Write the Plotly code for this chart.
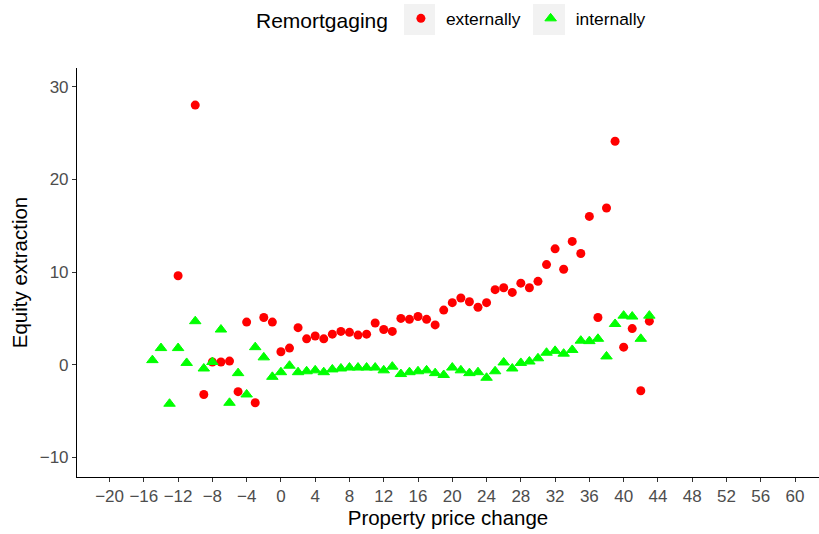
import plotly.graph_objects as go

# Price change (x) and equity extraction (y) by remortgaging type
ext_x = [-12, -10, -9, -8, -7, -6, -5, -4, -3, -2, -1, 0, 1, 2, 3, 4, 5, 6, 7, 8, 9, 10,
         11, 12, 13, 14, 15, 16, 17, 18, 19, 20, 21, 22, 23, 24, 25, 26, 27, 28, 29, 30,
         31, 32, 33, 34, 35, 36, 37, 38, 39, 40, 41, 42, 43]
ext_y = [9.6, 28.0, -3.2, 0.3, 0.3, 0.4, -2.9, 4.6, -4.1, 5.1, 4.6, 1.4, 1.8, 4.0, 2.8, 3.1,
         2.8, 3.3, 3.6, 3.5, 3.2, 3.3, 4.5, 3.8, 3.6, 5.0, 4.9, 5.2, 4.9, 4.3, 5.9, 6.7,
         7.2, 6.8, 6.2, 6.7, 8.1, 8.3, 7.8, 8.8, 8.3, 9.0, 10.8, 12.5, 10.3, 13.3, 12.0,
         16.0, 5.1, 16.9, 24.1, 1.9, 3.9, -2.8, 4.7]

int_x = [-15, -14, -13, -12, -11, -10, -9, -8, -7, -6, -5, -4, -3, -2, -1, 0, 1, 2, 3, 4,
         5, 6, 7, 8, 9, 10, 11, 12, 13, 14, 15, 16, 17, 18, 19, 20, 21, 22, 23, 24, 25,
         26, 27, 28, 29, 30, 31, 32, 33, 34, 35, 36, 37, 38, 39, 40, 41, 42, 43]
int_y = [0.5, 1.8, -4.2, 1.8, 0.2, 4.7, -0.4, 0.3, 3.8, -4.1, -0.9, -3.2, 1.9, 0.8, -1.3,
         -0.8, -0.1, -0.8, -0.7, -0.6, -0.8, -0.5, -0.4, -0.3, -0.3, -0.3, -0.3, -0.6,
         -0.2, -1.0, -0.8, -0.7, -0.6, -0.9, -1.1, -0.3, -0.6, -0.9, -0.8, -1.4, -0.7,
         0.25, -0.4, 0.2, 0.35, 0.7, 1.3, 1.5, 1.2, 1.6, 2.6, 2.55, 2.8, 0.9, 4.4, 5.3,
         5.2, 2.8, 5.3]

x_ticks = list(range(-20, 61, 4))
y_ticks = [-10, 0, 10, 20, 30]

FONT = "Liberation Sans, Arial, sans-serif"


def tick_text(vals):
    return [("\u2212" + str(-v)) if v < 0 else str(v) for v in vals]


fig = go.Figure()
fig.add_trace(go.Scatter(
    x=ext_x, y=ext_y, mode="markers", name="externally",
    marker=dict(symbol="circle", size=9, color="#FF0000", line=dict(width=0)),
))
fig.add_trace(go.Scatter(
    x=int_x, y=int_y, mode="markers", name="internally",
    marker=dict(symbol="triangle-up", size=10, color="#00FF00",
                line=dict(width=1, color="#00FF00")),
))

# light grey key backgrounds behind the legend symbols
key_boxes = [(404, 435), (533, 565)]
for x0, x1 in key_boxes:
    fig.add_shape(
        type="rect", xref="paper", yref="paper",
        x0=(x0 - 77) / 742, x1=(x1 - 77) / 742,
        y0=(477 - 35) / 409, y1=(477 - 4) / 409,
        fillcolor="#F2F2F2", line=dict(width=0), layer="above",
    )

fig.update_layout(
    width=819, height=534,
    margin=dict(l=77, r=0, t=68, b=57),
    paper_bgcolor="white", plot_bgcolor="white",
    font=dict(family=FONT, color="black"),
    legend=dict(
        orientation="h", x=(254 - 77) / 742, xanchor="left", y=0.999, yanchor="top",
        yref="container", itemwidth=40,
        title=dict(text="Remortgaging", font=dict(size=21, color="black"), side="left"),
        font=dict(size=17.4, color="black"),
        bgcolor="rgba(0,0,0,0)",
    ),
)

fig.update_xaxes(
    range=[-23.8, 62.8], tickmode="array", tickvals=x_ticks, ticktext=tick_text(x_ticks),
    showgrid=False, zeroline=False, showline=True, linecolor="black", linewidth=1.1,
    ticks="outside", ticklen=4, tickwidth=1.1, tickcolor="#333333",
    tickfont=dict(size=17, color="#4D4D4D"),
    title=dict(text="Property price change", font=dict(size=20.5, color="black"), standoff=4),
)
fig.update_yaxes(
    range=[-12.1, 32.0], tickmode="array", tickvals=y_ticks, ticktext=tick_text(y_ticks),
    showgrid=False, zeroline=False, showline=True, linecolor="black", linewidth=1.1,
    ticks="outside", ticklen=4, tickwidth=1.1, tickcolor="#333333",
    tickfont=dict(size=17, color="#4D4D4D"),
    title=dict(text="Equity extraction", font=dict(size=20.5, color="black"), standoff=6),
)

fig.write_html("out.html")
